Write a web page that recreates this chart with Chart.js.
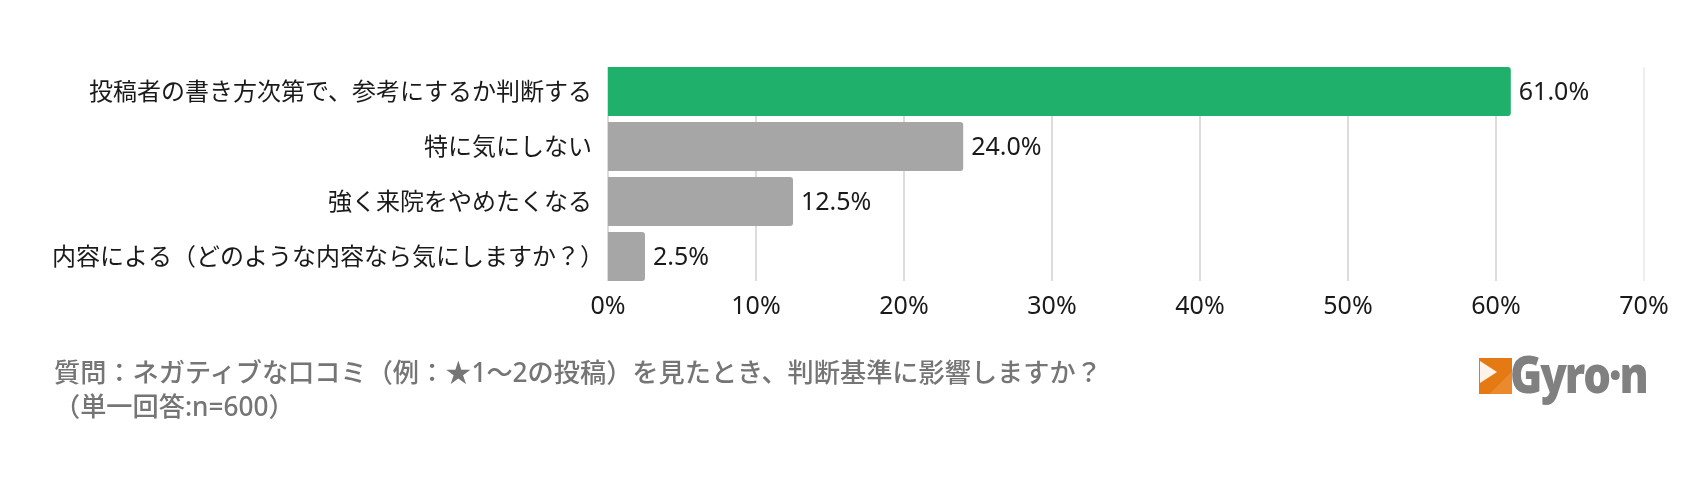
<!DOCTYPE html>
<html lang="ja">
<head>
<meta charset="utf-8">
<script src="https://cdn.jsdelivr.net/npm/chart.js@4"></script>
<style>
html, body { margin: 0; padding: 0; background: #fff; }
#wrap { position: relative; width: 1700px; height: 481px; overflow: hidden; }
#chart { position: absolute; left: 0; top: 0; }
.note { position: absolute; left: 54px; top: 355px; color: #757575; font: 500 26.2px/34px "Noto Sans", "Noto Sans CJK JP", sans-serif; white-space: nowrap; }
.logo { position: absolute; left: 1510px; top: 344px; color: #808080; font: 800 52px/58px "Open Sans", sans-serif; letter-spacing: -2.5px; white-space: nowrap; transform: scaleX(0.84); transform-origin: left center; }
.mark { position: absolute; left: 1479px; top: 358px; width: 33px; height: 36px; background: linear-gradient(135deg, #e57a14 68%, #ea8a2c 68%); }
.mark:before { content: ""; position: absolute; left: 1px; top: 3px; border-style: solid; border-width: 11px 0 11px 17px; border-color: transparent transparent transparent #fdf3e8; }
</style>
</head>
<body>
<div id="wrap">
    <canvas id="chart" width="1700" height="481"></canvas>
    <div class="note">質問：ネガティブな口コミ（例：★1～2の投稿）を見たとき、判断基準に影響しますか？<br>（単一回答:n=600）</div>
    <div class="mark"></div>
    <div class="logo">Gyro·n</div>
</div>
<script>
const categories = [
    '投稿者の書き方次第で、参考にするか判断する',
    '特に気にしない',
    '強く来院をやめたくなる',
    '内容による（どのような内容なら気にしますか？）'
];
const values = [61.0, 24.0, 12.5, 2.5];
const axisMax = 70;
const axisStep = 10;

const labelFont = '24px "Noto Sans CJK JP", sans-serif';
const numberFont = '"Noto Sans", sans-serif';
const inkColor = '#1a1a1a';

// grid lines only run from the first bar's top to the last bar's bottom
const trimmedGrid = {
    id: 'trimmedGrid',
    beforeDatasetsDraw(chart) {
        const bars = chart.getDatasetMeta(0).data;
        const top = bars[0].y - bars[0].height / 2;
        const bottom = bars[bars.length - 1].y + bars[bars.length - 1].height / 2;
        const ctx = chart.ctx;
        ctx.save();
        chart.scales.x.ticks.forEach((tick, i) => {
            const x = chart.scales.x.getPixelForTick(i);
            ctx.strokeStyle = tick.value === axisMax ? '#e8e8e8' : '#dcdcdc';
            ctx.lineWidth = tick.value === axisMax ? 1.5 : 2;
            ctx.beginPath();
            ctx.moveTo(x, top);
            ctx.lineTo(x, bottom);
            ctx.stroke();
        });
        ctx.restore();
    }
};

const textLabels = {
    id: 'textLabels',
    afterDatasetsDraw(chart) {
        const ctx = chart.ctx;
        const y = chart.scales.y;
        ctx.save();
        ctx.fillStyle = inkColor;
        ctx.textBaseline = 'middle';
        chart.getDatasetMeta(0).data.forEach((bar, i) => {
            ctx.font = '25px ' + numberFont;
            ctx.textAlign = 'left';
            ctx.fillText(values[i].toFixed(1) + '%', bar.x + 8, bar.y + 1);

            // a closing bracket at the end of a label is trimmed by half an em
            ctx.font = labelFont;
            ctx.textAlign = 'right';
            const trim = categories[i].endsWith('）') ? 12 : 0;
            ctx.fillText(categories[i], y.right - 16 + trim, y.getPixelForTick(i) - 1);
        });
        ctx.restore();
    }
};

new Chart(document.getElementById('chart').getContext('2d'), {
    type: 'bar',
    data: {
        labels: categories,
        datasets: [{
            data: values,
            backgroundColor: (c) => (c.dataIndex === 0 ? '#1fb16b' : '#a6a6a6'),
            borderRadius: 3,
            borderSkipped: 'left',
            barPercentage: 1,
            categoryPercentage: 0.89
        }]
    },
    options: {
        indexAxis: 'y',
        responsive: false,
        animation: false,
        layout: { padding: { top: 64, right: 56, bottom: 0, left: 0 } },
        plugins: { legend: { display: false }, tooltip: { enabled: false } },
        scales: {
            x: {
                min: 0,
                max: axisMax,
                grid: { display: false },
                border: { display: false },
                afterFit: (scale) => { scale.height = 197; },
                ticks: {
                    stepSize: axisStep,
                    padding: 0,
                    maxRotation: 0,
                    color: inkColor,
                    font: { family: numberFont, size: 25 },
                    callback: (v) => v + '%'
                }
            },
            y: {
                grid: { display: false },
                border: { display: false },
                afterFit: (scale) => { scale.width = 608; },
                ticks: { display: false }
            }
        }
    },
    plugins: [trimmedGrid, textLabels]
});
</script>
</body>
</html>
